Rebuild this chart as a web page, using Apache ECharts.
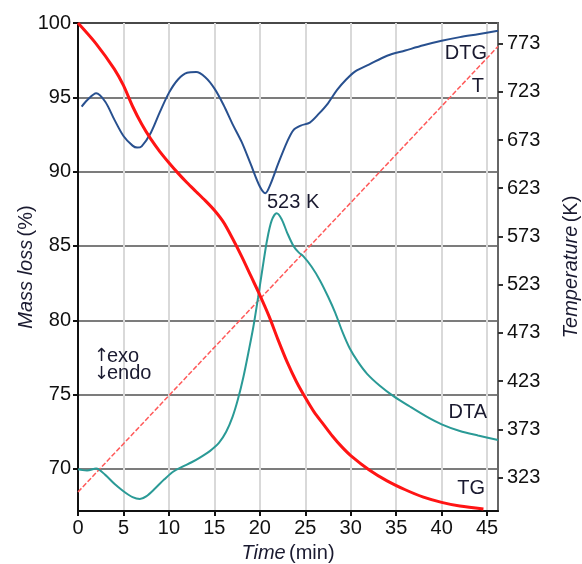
<!DOCTYPE html>
<html>
<head>
<meta charset="utf-8">
<script src="https://cdn.jsdelivr.net/npm/echarts@6/dist/echarts.min.js"></script>
<style>html,body{margin:0;padding:0;background:#fff}#c{width:582px;height:564px}</style>
</head>
<body>
<div id="c"></div>
<script>
// ---- data ----
const timeTicks = [0, 5, 10, 15, 20, 25, 30, 35, 40, 45];
const massTicks = [70, 75, 80, 85, 90, 95, 100];
const tempTicks = [323, 373, 423, 473, 523, 573, 623, 673, 723, 773];

const tgTime = [0, 2, 4, 5, 6, 7, 8, 9, 10, 11, 12, 13, 14, 15, 16, 17, 18, 19, 20, 21, 22, 23, 24, 25, 26, 27, 28, 29, 30, 32, 34, 36, 38, 40, 42, 44.6];
const tgMass = [100, 98.6, 96.9, 95.8, 94.4, 93.2, 92.2, 91.35, 90.6, 89.9, 89.25, 88.65, 88.05, 87.4, 86.6, 85.5, 84.3, 83.0, 81.7, 80.3, 78.7, 77.2, 75.9, 74.8, 73.8, 73.0, 72.2, 71.5, 70.9, 69.95, 69.2, 68.6, 68.1, 67.75, 67.5, 67.3];

const dtgTime = [0.4, 1, 2, 3, 4, 5, 6, 6.5, 7, 8, 9, 10, 11, 12, 13, 14, 15, 16, 17, 18, 19, 20, 20.6, 21.2, 22, 23, 23.7, 24.5, 25.5, 26.5, 27.5, 28.5, 29.5, 30.5, 32, 34, 36, 38, 40, 42, 44, 46.2];
const dtgVal  = [94.37, 94.8, 95.27, 94.7, 93.5, 92.4, 91.75, 91.62, 91.7, 92.6, 94.0, 95.3, 96.2, 96.65, 96.7, 96.35, 95.6, 94.5, 93.2, 92.0, 90.5, 89.0, 88.55, 89.2, 90.5, 92.0, 92.8, 93.1, 93.3, 93.9, 94.6, 95.5, 96.2, 96.75, 97.2, 97.8, 98.15, 98.5, 98.8, 99.05, 99.25, 99.48];

const dtaTime = [0, 0.5, 1, 2, 3, 4, 5, 6, 6.8, 7.5, 8.5, 9.5, 10.5, 11.5, 12.5, 13.5, 14.5, 15.5, 16.3, 17, 17.6, 18.2, 18.8, 19.3, 19.8, 20.3, 20.8, 21.3, 21.85, 22.4, 23.0, 23.7, 24.3, 24.8, 25.7, 26.6, 27.5, 28.3, 29.1, 29.9, 30.8, 31.8, 33.2, 34.7, 36.5, 38.4, 40.0, 42.0, 44.0, 46.2];
const dtaVal  = [69.98, 69.92, 69.9, 70.03, 69.6, 69.0, 68.5, 68.1, 67.97, 68.15, 68.7, 69.3, 69.83, 70.15, 70.45, 70.8, 71.2, 71.75, 72.5, 73.5, 74.7, 76.2, 78.0, 79.6, 81.5, 83.5, 85.4, 86.7, 87.2, 86.8, 85.9, 85.0, 84.55, 84.3, 83.6, 82.7, 81.6, 80.5, 79.2, 78.1, 77.2, 76.4, 75.6, 74.9, 74.2, 73.5, 73.0, 72.55, 72.25, 71.95];

const tTime = [0, 46.2];
const tKelvin = [308, 770];

const zip = (a, b) => a.map((v, i) => [v, b[i]]);

const FONT = '"Liberation Sans", Arial, sans-serif';
const TXT = '#1a1a30';

function note(pos, text, extra) {
  return Object.assign({type: 'text', z: 100, style: Object.assign({text: text, fontSize: 20, fontFamily: FONT, fill: TXT}, extra || {})}, pos);
}
const nameRich = {rich: {i: {fontStyle: 'italic', fontSize: 20, color: TXT, fontFamily: FONT}, n: {fontSize: 20, color: TXT, fontFamily: FONT}}};

const chart = echarts.init(document.getElementById('c'), null, {renderer: 'canvas'});
chart.setOption({
  animation: false,
  backgroundColor: '#fff',
  textStyle: {fontFamily: FONT},
  grid: {left: 78, right: 84, top: 23, bottom: 53, containLabel: false, outerBoundsMode: 'none',
         show: true, borderColor: '#333', borderWidth: 2, backgroundColor: 'transparent'},
  xAxis: {
    type: 'value', min: 0, max: 46.2,
    name: '{i|Time} {n|(min)}', nameLocation: 'middle', nameGap: 32, nameMoveOverlap: false,
    nameTextStyle: nameRich,
    axisLine: {show: true, onZero: false, lineStyle: {color: '#111', width: 2}},
    axisTick: {show: true, length: 5, customValues: timeTicks, lineStyle: {color: '#111', width: 2}},
    axisLabel: {customValues: timeTicks, fontSize: 20, color: '#111', margin: 7, fontFamily: FONT},
    splitLine: {show: true, lineStyle: {color: '#d9d9d9', width: 2}}
  },
  yAxis: [{
    type: 'value', min: 67.17, max: 100, position: 'left',
    name: '{i|Mass loss} {n|(%)}', nameLocation: 'middle', nameGap: 42, nameRotate: 90, nameMoveOverlap: false,
    nameTextStyle: nameRich,
    axisLine: {show: true, onZero: false, lineStyle: {color: '#111', width: 2}},
    axisTick: {show: true, length: 5, customValues: massTicks, lineStyle: {color: '#111', width: 2}},
    axisLabel: {customValues: massTicks, fontSize: 20, color: '#111', margin: 7, fontFamily: FONT},
    splitLine: {show: true, lineStyle: {color: '#505050', width: 1.5}}
  }, {
    type: 'value', min: 288.3, max: 794.3, position: 'right',
    name: '{i|Temperature} {n|(K)}', nameLocation: 'middle', nameGap: 63, nameRotate: 90, nameMoveOverlap: false,
    nameTextStyle: nameRich,
    axisLine: {show: true, onZero: false, lineStyle: {color: '#666', width: 2}},
    axisTick: {show: true, length: 5, customValues: tempTicks, lineStyle: {color: '#333', width: 2}},
    axisLabel: {customValues: tempTicks, fontSize: 20, color: '#111', margin: 9, fontFamily: FONT},
    splitLine: {show: false}
  }],
  series: [
    {name: 'T', type: 'line', yAxisIndex: 1, data: zip(tTime, tKelvin), symbol: 'none',
     lineStyle: {color: '#ff5a5a', width: 1.5, type: [5, 2]}},
    {name: 'DTA', type: 'line', yAxisIndex: 0, data: zip(dtaTime, dtaVal), symbol: 'none', smooth: 0.3,
     lineStyle: {color: '#2a9a96', width: 2}},
    {name: 'DTG', type: 'line', yAxisIndex: 0, data: zip(dtgTime, dtgVal), symbol: 'none', smooth: 0.3,
     lineStyle: {color: '#28508f', width: 2}},
    {name: 'TG', type: 'line', yAxisIndex: 0, data: zip(tgTime, tgMass), symbol: 'none', smooth: 0.3,
     lineStyle: {color: '#ff1414', width: 3}}
  ],
  graphic: [
    note({right: 582 - 487, top: 43}, 'DTG'),
    note({right: 582 - 484, top: 76}, 'T'),
    note({left: 267, top: 192}, '523 K'),
    note({right: 582 - 487, top: 402}, 'DTA'),
    note({right: 582 - 485, top: 478}, 'TG'),
    note({left: 94, top: 347}, '↑', {fontFamily: '"DejaVu Sans", sans-serif', fontSize: 18}),
    note({left: 94, top: 365}, '↓', {fontFamily: '"DejaVu Sans", sans-serif', fontSize: 18}),
    note({left: 107, top: 346}, 'exo'),
    note({left: 107, top: 363}, 'endo')
  ]
});
</script>
</body>
</html>
